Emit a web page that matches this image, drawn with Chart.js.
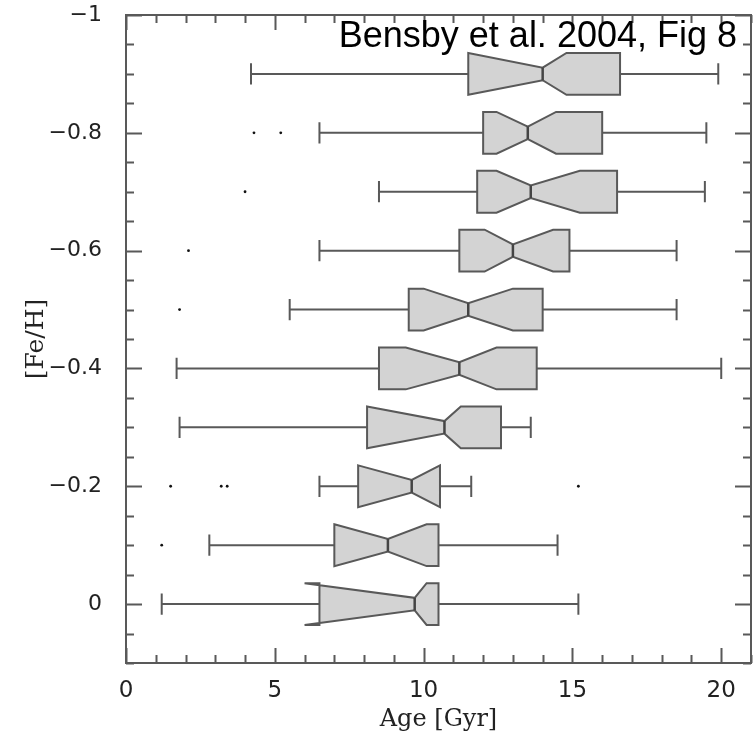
<!DOCTYPE html>
<html>
<head>
<meta charset="utf-8">
<style>
  html, body { margin: 0; padding: 0; background: #fff; }
  #wrap { width: 753px; height: 735px; }
</style>
<script src="https://cdn.jsdelivr.net/npm/chart.js@4.4.1/dist/chart.umd.min.js"></script>
</head>
<body>
<div id="wrap"><canvas id="chart" width="753" height="735"></canvas></div>
<script>

// [Fe/H] bins (one notched box per bin)
const feH = [-0.9, -0.8, -0.7, -0.6, -0.5, -0.4, -0.3, -0.2, -0.1, 0];

// Age statistics per bin [Gyr]
const whiskerLow  = [4.2, 6.5, 8.5, 6.5, 5.5, 1.7, 1.8, 6.5, 2.8, 1.2];
const q1          = [11.5, 12.0, 11.8, 11.2, 9.5, 8.5, 8.1, 7.8, 7.0, 6.5];
const notchLow    = [11.5, 12.45, 12.45, 12.05, 10.0, 9.4, 8.1, 7.8, 7.0, 6.0];
const median      = [14.0, 13.5, 13.6, 13.0, 11.5, 11.2, 10.7, 9.6, 8.8, 9.7];
const notchHigh   = [14.8, 14.45, 15.25, 14.35, 13.0, 12.45, 11.25, 10.55, 10.1, 10.1];
const q3          = [16.6, 16.0, 16.5, 14.9, 14.0, 13.8, 12.6, 10.55, 10.5, 10.5];
const whiskerHigh = [19.9, 19.5, 19.45, 18.5, 18.5, 20.0, 13.6, 11.6, 14.5, 15.2];

// Outliers per bin [Gyr]
const outlierAges = [[], [4.3, 5.2], [4.0], [2.1], [1.8], [], [], [1.5, 3.2, 3.4, 15.2], [1.2], []];

// Axis ticks
const xTickValues = [0, 5, 10, 15, 20];
const yTickValues = [-1, -0.8, -0.6, -0.4, -0.2, 0];

const LINE = '#595959';
const BOX_FILL = '#d3d3d3';

// Outlier points for the scatter dataset
const outlierPoints = [];
feH.forEach((fe, i) => {
    outlierAges[i].forEach(age => outlierPoints.push({ x: age, y: fe }));
});

// Notched boxes and whiskers, positioned through the chart scales
const notchedBoxPlugin = {
    id: 'notchedBoxes',
    beforeDatasetsDraw(chart) {
        const { ctx, scales: { x, y } } = chart;
        const rowGap = Math.abs(y.getPixelForValue(feH[1]) - y.getPixelForValue(feH[0]));
        const half = rowGap * 0.355;
        const cap = rowGap * 0.18;
        const narrow = half * 0.3;
        const px = v => x.getPixelForValue(v);

        ctx.save();
        ctx.strokeStyle = LINE;
        ctx.lineWidth = 2;
        ctx.lineJoin = 'miter';

        feH.forEach((fe, i) => {
            const yc = y.getPixelForValue(fe);

            // whiskers + caps
            ctx.beginPath();
            ctx.moveTo(px(whiskerLow[i]), yc);
            ctx.lineTo(px(q1[i]), yc);
            ctx.moveTo(px(q3[i]), yc);
            ctx.lineTo(px(whiskerHigh[i]), yc);
            ctx.moveTo(px(whiskerLow[i]), yc - cap);
            ctx.lineTo(px(whiskerLow[i]), yc + cap);
            ctx.moveTo(px(whiskerHigh[i]), yc - cap);
            ctx.lineTo(px(whiskerHigh[i]), yc + cap);
            ctx.stroke();

            // notched box
            ctx.beginPath();
            ctx.moveTo(px(q1[i]), yc - half);
            ctx.lineTo(px(notchLow[i]), yc - half);
            ctx.lineTo(px(median[i]), yc - narrow);
            ctx.lineTo(px(notchHigh[i]), yc - half);
            ctx.lineTo(px(q3[i]), yc - half);
            ctx.lineTo(px(q3[i]), yc + half);
            ctx.lineTo(px(notchHigh[i]), yc + half);
            ctx.lineTo(px(median[i]), yc + narrow);
            ctx.lineTo(px(notchLow[i]), yc + half);
            ctx.lineTo(px(q1[i]), yc + half);
            ctx.closePath();
            ctx.fillStyle = BOX_FILL;
            ctx.fill();
            ctx.stroke();

            // median mark
            ctx.beginPath();
            ctx.lineWidth = 2.5;
            ctx.strokeStyle = '#444';
            ctx.moveTo(px(median[i]), yc - narrow);
            ctx.lineTo(px(median[i]), yc + narrow);
            ctx.stroke();
            ctx.lineWidth = 2;
            ctx.strokeStyle = LINE;
        });
        ctx.restore();
    }
};

// Frame with inward ticks on all four sides, plus the figure caption
const framePlugin = {
    id: 'frameTicks',
    afterDraw(chart) {
        const { ctx, chartArea: a, scales: { x, y } } = chart;
        ctx.save();
        ctx.strokeStyle = LINE;
        ctx.lineWidth = 2;
        ctx.beginPath();

        // x ticks: minor every 1, major every 5
        for (let v = 0; v <= 21; v++) {
            const xp = Math.round(x.getPixelForValue(v)) + 0.5;
            const len = v % 5 === 0 ? 15 : 8;
            ctx.moveTo(xp, a.bottom); ctx.lineTo(xp, a.bottom - len);
            ctx.moveTo(xp, a.top); ctx.lineTo(xp, a.top + len);
        }
        // y ticks: minor every 0.05, major every 0.2
        for (let k = -20; k <= 2; k++) {
            const yp = Math.round(y.getPixelForValue(k * 0.05)) + 0.5;
            const len = k % 4 === 0 ? 16 : 8;
            ctx.moveTo(a.left, yp); ctx.lineTo(a.left + len, yp);
            ctx.moveTo(a.right, yp); ctx.lineTo(a.right - len, yp);
        }
        ctx.stroke();

        ctx.strokeRect(a.left, a.top, a.right - a.left, a.bottom - a.top);

        ctx.fillStyle = '#000';
        ctx.font = '36px "Liberation Sans", Arial, sans-serif';
        ctx.textAlign = 'right';
        ctx.textBaseline = 'alphabetic';
        ctx.fillText('Bensby et al. 2004, Fig 8', a.right - 14, 47);
        ctx.restore();
    }
};

const ctx = document.getElementById('chart').getContext('2d');
const chart = new Chart(ctx, {
    type: 'scatter',
    data: {
        datasets: [{
            label: 'Outliers',
            data: outlierPoints,
            pointRadius: 1.4,
            pointBackgroundColor: '#111',
            pointBorderWidth: 0
        }]
    },
    options: {
        responsive: false,
        animation: false,
        devicePixelRatio: 1,
        layout: {
            autoPadding: false,
            padding: { top: 15, right: 2, left: 0, bottom: 0 }
        },
        plugins: {
            legend: { display: false },
            tooltip: { enabled: false }
        },
        scales: {
            x: {
                type: 'linear',
                min: 0,
                max: 21,
                afterFit: scale => {
                    scale.height = 72;
                    scale.paddingLeft = 0;
                    scale.paddingRight = 0;
                },
                afterBuildTicks: scale => { scale.ticks = xTickValues.map(v => ({ value: v })); },
                grid: { display: false },
                border: { display: false },
                ticks: {
                    color: '#222',
                    padding: 6,
                    maxRotation: 0,
                    font: { family: '"DejaVu Sans"', size: 23 }
                },
                title: {
                    display: true,
                    text: 'Age [Gyr]',
                    color: '#222',
                    padding: { top: 0, bottom: 1 },
                    font: { family: '"DejaVu Serif"', size: 24 }
                }
            },
            y: {
                type: 'linear',
                min: -1,
                max: 0.1,
                reverse: true,
                afterFit: scale => {
                    scale.width = 126;
                    scale.paddingTop = 0;
                    scale.paddingBottom = 0;
                },
                afterBuildTicks: scale => { scale.ticks = yTickValues.map(v => ({ value: v })); },
                grid: { display: false },
                border: { display: false },
                ticks: {
                    color: '#222',
                    padding: 16,
                    font: { family: '"DejaVu Sans"', size: 22 },
                    callback: v => String(v).replace('-', '\u2212')
                },
                title: {
                    display: true,
                    text: '[Fe/H]',
                    color: '#222',
                    padding: { top: 21, bottom: 0 },
                    font: { family: '"DejaVu Serif"', size: 25 }
                }
            }
        }
    },
    plugins: [notchedBoxPlugin, framePlugin]
});
</script>
</body>
</html>
